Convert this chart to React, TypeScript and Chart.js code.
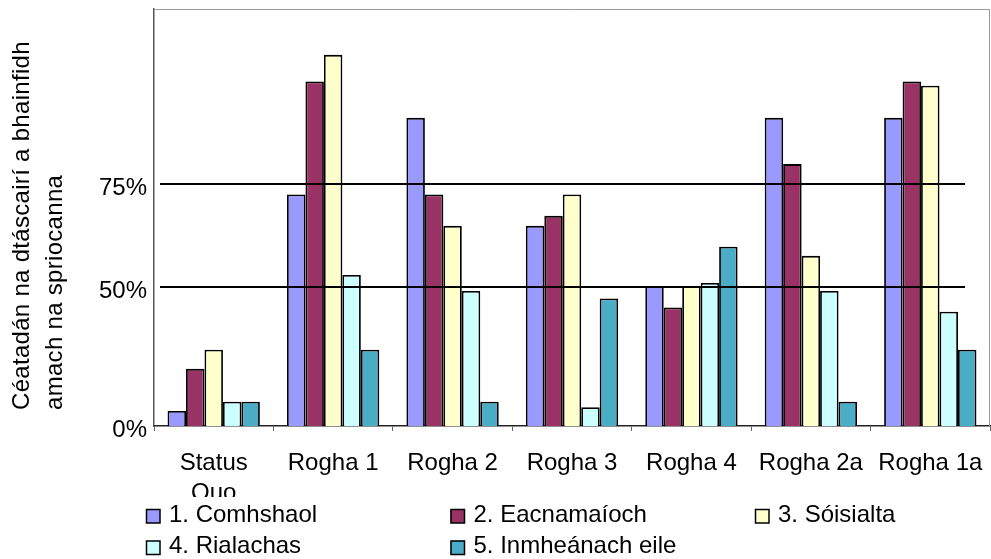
import React, { useEffect, useRef } from 'react';
import { Chart, registerables } from 'chart.js';

Chart.register(...registerables);

const categories: (string | string[])[] = [['Status', 'Quo'], 'Rogha 1', 'Rogha 2', 'Rogha 3', 'Rogha 4', 'Rogha 2a', 'Rogha 1a'];
const seriesNames = ['1. Comhshaol', '2. Eacnamaíoch', '3. Sóisialta', '4. Rialachas', '5. Inmheánach eile'];
const seriesColors = ['#9999FF', '#993366', '#FFFFCC', '#CCFFFF', '#4BACC6'];

const comhshaol = [3.6, 55.5, 73.9, 48.0, 33.5, 73.9, 73.9];
const eacnamaioch = [13.7, 82.6, 55.5, 50.4, 28.4, 62.8, 82.6];
const soisialta = [18.3, 89.0, 48.0, 55.5, 33.5, 40.8, 81.6];
const rialachas = [5.8, 36.2, 32.4, 4.5, 34.3, 32.4, 27.4];
const inmheanach = [5.8, 18.3, 5.8, 30.6, 43.0, 5.8, 18.3];

const yMax = 100;
const yTickValues = [0, 33.3, 58.0];
const yTickLabels = ['0%', '50%', '75%'];
const targetLineValues = [33.3, 58.0];
const yTitle = ['Céatadán na dtáscairí a bhainfidh', 'amach na spriocanna'];

const FONT = "'Liberation Sans', Arial, sans-serif";

const framePlugin = {
  id: 'frame',
  beforeDatasetsDraw(chart: any) {
    const { ctx, chartArea: a } = chart;
    ctx.save();
    ctx.strokeStyle = '#9a9a9a';
    ctx.lineWidth = 1;
    ctx.beginPath();
    ctx.moveTo(a.left, Math.round(a.top) + 0.5);
    ctx.lineTo(Math.round(a.right) - 0.5, Math.round(a.top) + 0.5);
    ctx.lineTo(Math.round(a.right) - 0.5, a.bottom);
    ctx.stroke();
    ctx.restore();
  },
};

const targetPlugin = {
  id: 'targets',
  afterDatasetsDraw(chart: any) {
    const { ctx, chartArea: a, scales } = chart;
    ctx.save();
    ctx.strokeStyle = '#000';
    ctx.lineWidth = 2;
    targetLineValues.forEach((v) => {
      const y = Math.round(scales.y.getPixelForValue(v));
      ctx.beginPath();
      ctx.moveTo(a.left + 6, y);
      ctx.lineTo(a.right - 25, y);
      ctx.stroke();
    });
    ctx.restore();
  },
};

const overlayPlugin = {
  id: 'overlay',
  afterDraw(chart: any) {
    const { ctx, chartArea: a, width, height } = chart;
    ctx.save();
    // legend box (white) overlapping the axis labels
    const legendTop = height - 62;
    ctx.fillStyle = '#fff';
    ctx.fillRect(0, legendTop, width, height - legendTop);

    ctx.font = `24px ${FONT}`;
    ctx.textBaseline = 'alphabetic';
    ctx.textAlign = 'left';
    const colX = [a.left - 8, a.left - 8 + 304.5, a.left - 8 + 609];
    const rowY = [height - 50, height - 18.5];
    chart.data.datasets.forEach((ds: any, i: number) => {
      const col = i % 3;
      const row = Math.floor(i / 3);
      const bx = colX[col];
      const by = rowY[row];
      ctx.fillStyle = ds.backgroundColor;
      ctx.fillRect(bx, by, 14, 14);
      ctx.strokeStyle = '#000';
      ctx.lineWidth = 1.5;
      ctx.strokeRect(bx + 0.5, by + 0.5, 13.5, 13.5);
      ctx.fillStyle = '#000';
      ctx.fillText(ds.label, bx + 23, by + 12.7);
    });

    // y axis title, two lines, start-aligned at the bottom
    ctx.font = `24px ${FONT}`;
    (ctx as any).letterSpacing = '0.3px';
    ctx.fillStyle = '#000';
    ctx.translate(29, a.bottom - 16);
    ctx.rotate(-Math.PI / 2);
    ctx.textAlign = 'left';
    ctx.textBaseline = 'alphabetic';
    yTitle.forEach((line, i) => {
      ctx.fillText(line, 0, i * 32.7);
    });
    ctx.restore();
  },
};

export default function App() {
  const canvasRef = useRef<HTMLCanvasElement | null>(null);

  useEffect(() => {
    if (!canvasRef.current) return;
    const series = [comhshaol, eacnamaioch, soisialta, rialachas, inmheanach];
    const chart = new Chart(canvasRef.current, {
      type: 'bar',
      data: {
        labels: categories as any,
        datasets: series.map((d, i) => ({
          label: seriesNames[i],
          data: d,
          backgroundColor: seriesColors[i],
          borderColor: '#000',
          borderWidth: 1.8,
          categoryPercentage: 0.773,
          barPercentage: 1,
        })),
      },
      options: {
        responsive: false,
        animation: false,
        devicePixelRatio: 1,
        layout: { padding: { left: 0, top: 9, right: 1, bottom: 0 } },
        plugins: {
          legend: { display: false },
          tooltip: { enabled: false },
          title: { display: false },
        },
        scales: {
          x: {
            offset: true,
            grid: {
              display: true,
              offset: true,
              drawOnChartArea: false,
              drawTicks: true,
              tickLength: 5,
              color: '#666',
              lineWidth: 1,
            },
            border: { display: true, color: '#222', width: 1.5 },
            ticks: {
              autoSkip: false,
              maxRotation: 0,
              minRotation: 0,
              color: '#000',
              padding: 17,
              font: { family: FONT, size: 24, lineHeight: 1.25 },
            },
            afterFit(scale: any) {
              scale.height = 133;
              scale.paddingLeft = 0;
              scale.paddingRight = 0;
            },
          },
          y: {
            min: 0,
            max: yMax,
            grid: { display: false, drawTicks: false, tickLength: 0 },
            border: { display: true, color: '#555', width: 1.5 },
            afterBuildTicks(scale: any) {
              scale.ticks = yTickValues.map((v) => ({ value: v }));
            },
            ticks: {
              color: '#000',
              padding: 7,
              labelOffset: 4,
              font: { family: FONT, size: 24 },
              callback: (value: any) => {
                const idx = yTickValues.indexOf(Number(value));
                return idx >= 0 ? yTickLabels[idx] : '';
              },
            },
            afterFit(scale: any) {
              scale.width = 154;
              scale.paddingTop = 0;
              scale.paddingBottom = 0;
            },
          },
        },
      },
      plugins: [framePlugin, targetPlugin, overlayPlugin],
    } as any);
    return () => chart.destroy();
  }, []);

  return (
    <div style={{ position: 'absolute', left: 0, top: 0, width: 991, height: 559, background: '#fff' }}>
      <canvas ref={canvasRef} width={991} height={559} style={{ display: 'block' }} />
    </div>
  );
}
